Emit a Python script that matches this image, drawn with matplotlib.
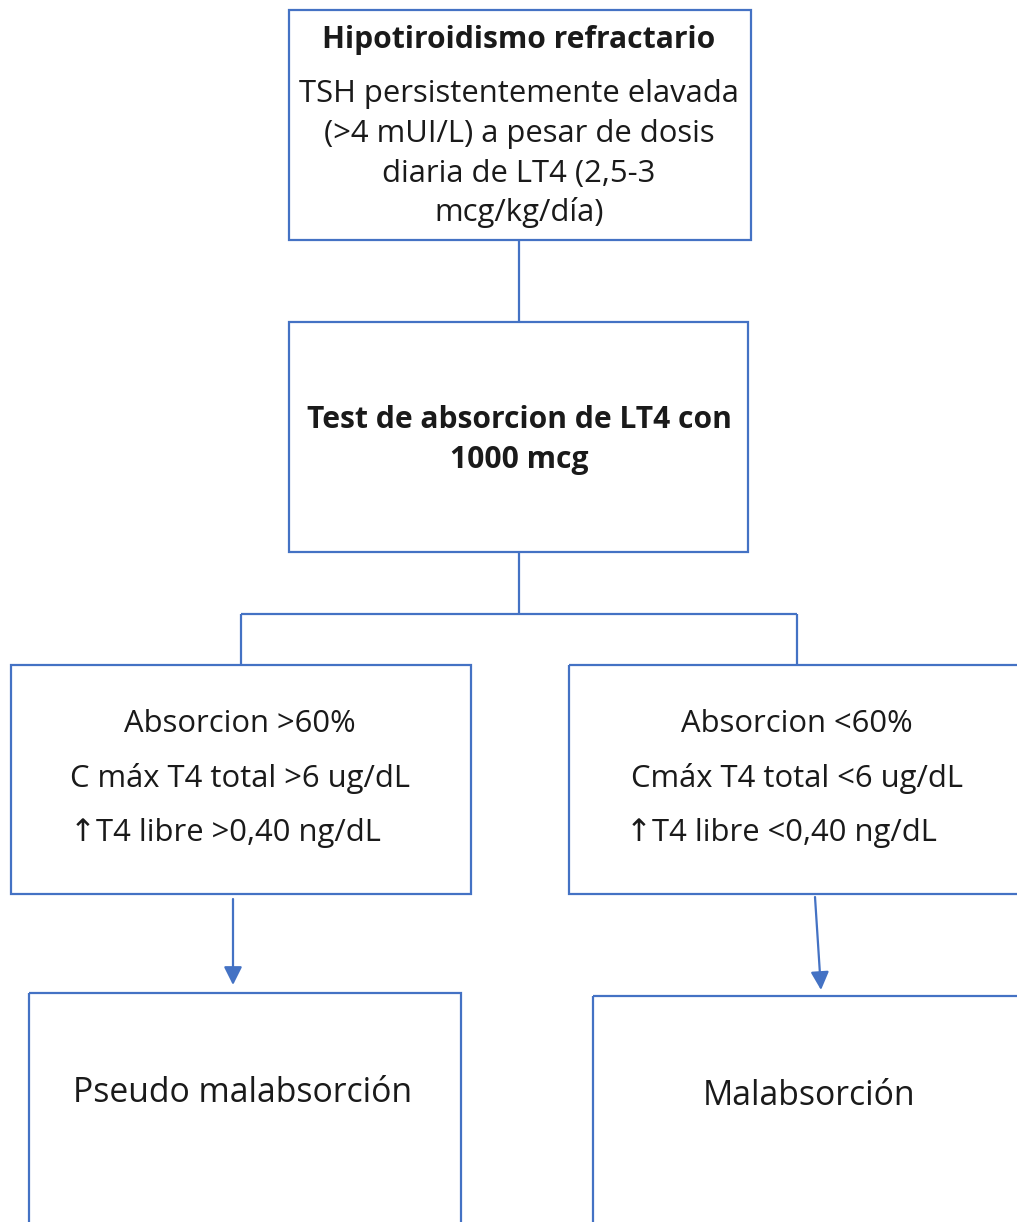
import matplotlib
matplotlib.use("Agg")
import matplotlib.pyplot as plt
from matplotlib.patches import Rectangle

plt.rcParams['font.family'] = ['Open Sans', 'DejaVu Sans']

W, H = 1017, 1222
BLUE = "#4472C4"
TXT = "#1a1a1a"

# texts
top_title = "Hipotiroidismo refractario"
top_lines = ["TSH persistentemente elavada", "(>4 mUI/L) a pesar de dosis",
             "diaria de LT4 (2,5-3", "mcg/kg/día)"]
test_lines = ["Test de absorcion de LT4 con", "1000 mcg"]
left_lines = ["Absorcion >60%", "C máx T4 total >6 ug/dL", "\u2191T4 libre >0,40 ng/dL"]
right_lines = ["Absorcion <60%", "Cmáx T4 total <6 ug/dL", "\u2191T4 libre <0,40 ng/dL"]
left_result = "Pseudo malabsorción"
right_result = "Malabsorción"

# layout (pixels: x0, y0, x1, y1)
box_top = (289, 10, 751, 240)
box_test = (289, 322, 748, 552)
box_left = (11, 665, 471, 894)
box_right = (569, 665, 1030, 894)
box_res_l = (29, 993, 461, 1240)
box_res_r = (593, 996, 1030, 1240)

fig = plt.figure(figsize=(W / 100, H / 100), dpi=100)
ax = fig.add_axes([0, 0, 1, 1])
ax.set_xlim(0, W)
ax.set_ylim(H, 0)
ax.axis("off")


def box(b):
    x0, y0, x1, y1 = b
    ax.add_patch(Rectangle((x0, y0), x1 - x0, y1 - y0, fill=False,
                           edgecolor=BLUE, linewidth=1.6, clip_on=False))


def line(xs, ys):
    ax.plot(xs, ys, color=BLUE, linewidth=1.6, solid_capstyle="butt")


for b in [box_top, box_test, box_left, box_right, box_res_l, box_res_r]:
    box(b)

# connectors
line([519, 519], [240, 322])
line([519, 519], [552, 614])
line([241, 797], [614, 614])
line([241, 241], [614, 665])
line([797, 797], [614, 665])

for (x0, y0, x1, y1) in [(233, 899, 233, 985), (815, 897, 821, 990)]:
    ax.annotate("", xy=(x1, y1), xytext=(x0, y0),
                arrowprops=dict(arrowstyle="-|>,head_length=1.1,head_width=0.55",
                                color=BLUE, linewidth=1.6, shrinkA=0, shrinkB=0))

fs = 22.3
fsb = 21.6
ax.text(519, 40, top_title, ha="center", va="center", fontsize=fsb, fontweight="bold", color=TXT)
for y, t in zip([94, 134, 174, 213], top_lines):
    ax.text(519, y, t, ha="center", va="center", fontsize=fs, color=TXT)

for y, t in zip([420, 460], test_lines):
    ax.text(519, y, t, ha="center", va="center", fontsize=fsb, fontweight="bold", color=TXT)

for y, t in zip([724, 778], left_lines[:2]):
    ax.text(240, y, t, ha="center", va="center", fontsize=fs, color=TXT)
ax.text(70, 833, left_lines[2], ha="left", va="center", fontsize=fs, color=TXT)

for y, t in zip([724, 778], right_lines[:2]):
    ax.text(797, y, t, ha="center", va="center", fontsize=fs, color=TXT)
ax.text(626, 833, right_lines[2], ha="left", va="center", fontsize=fs, color=TXT)

ax.text(243, 1093, left_result, ha="center", va="center", fontsize=24.3, color=TXT)
ax.text(809, 1096, right_result, ha="center", va="center", fontsize=24.3, color=TXT)

fig.savefig("out.png", dpi=100, facecolor="white")
